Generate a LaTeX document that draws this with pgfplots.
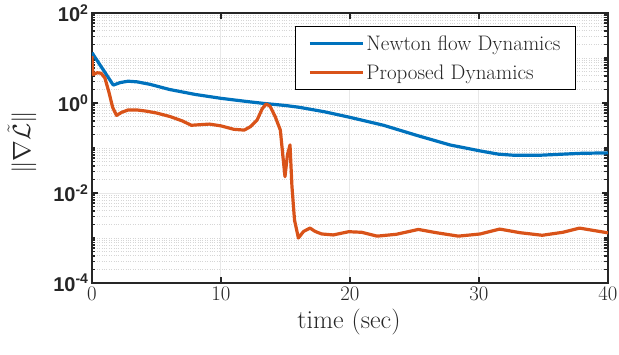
\documentclass[border=0pt]{standalone}
\usepackage{pgfplots}
\pgfplotsset{compat=1.18}
\usepackage{fontspec}
\newfontfamily\helv{Liberation Sans}

\definecolor{mblue}{RGB}{0,114,189}
\definecolor{morange}{RGB}{217,83,25}
\definecolor{axgray}{RGB}{38,38,38}

\begin{document}
\begin{tikzpicture}
\begin{axis}[
  name=ax, at={(0,0)}, anchor=south west,
  scale only axis, width=516pt, height=270pt,
  xmin=0, xmax=40, ymin=1e-4, ymax=1e2, ymode=log,
  xtick={0,10,20,30,40},
  ytick={1e-4,1e-2,1,1e2},
  yticklabels={10\textsuperscript{-4},10\textsuperscript{-2},10\textsuperscript{0},10\textsuperscript{2}},
  minor ytick={2e-4,3e-4,4e-4,5e-4,6e-4,7e-4,8e-4,9e-4,
               1e-3,2e-3,3e-3,4e-3,5e-3,6e-3,7e-3,8e-3,9e-3,
               2e-2,3e-2,4e-2,5e-2,6e-2,7e-2,8e-2,9e-2,
               1e-1,2e-1,3e-1,4e-1,5e-1,6e-1,7e-1,8e-1,9e-1,
               2,3,4,5,6,7,8,9,
               10,20,30,40,50,60,70,80,90},
  grid=both,
  major grid style={solid, color=black!9, line width=1pt},
  minor grid style={dotted, color=black!16, line width=0.9pt},
  axis line style={axgray, line width=1.3pt},
  tick style={axgray, line width=1.2pt},
  major tick length=6pt, minor tick length=3.5pt,
  tick align=inside,
  ticklabel style={font=\helv\bfseries\fontsize{20}{24}\selectfont, text=axgray},
  xticklabel style={yshift=-1pt},
  every axis x label/.style={at={(axis description cs:0.498,-0.144)}, anchor=center},
  every axis y label/.style={at={(axis description cs:-0.1357,0.52)}, rotate=90, anchor=center},
  xlabel style={font=\fontsize{26}{30}\selectfont, text=axgray},
  ylabel style={font=\fontsize{25}{29}\selectfont, text=axgray},
  xlabel={time (sec)},
  ylabel={$\|\nabla\tilde{\mathcal{L}}\|$},
  legend style={at={(0.938,0.952)}, anchor=north east, draw=black, line width=0.9pt,
    fill=white, font=\fontsize{21}{25}\selectfont, text=axgray,
    inner xsep=13pt, inner ysep=7pt, row sep=9pt,
    cells={anchor=west}},
  legend image code/.code={\draw[#1, line width=3.2pt] (0pt,0pt) -- (53pt,0pt);},
]
% Newton flow dynamics
\addplot[mblue, line width=3.2pt, line join=round] coordinates {
(0,13.1) (1.65,2.5) (2.2,2.85) (2.8,3.05) (3.5,2.95) (4.5,2.6) (6,2.0)
(8,1.55) (10,1.27) (12,1.08) (13.3,0.98) (15,0.88) (16.1,0.80) (18,0.64)
(20,0.48) (22.6,0.32) (25.2,0.19) (27.75,0.117) (30.1,0.086) (31.5,0.073)
(32.7,0.069) (34.7,0.069) (37.8,0.076) (40,0.078)
};
\addlegendentry{Newton flow Dynamics}
% proposed dynamics
\addplot[morange, line width=3.2pt, line join=round] coordinates {
(0,11) (0.03,6) (0.1,4.3) (0.4,4.7) (0.7,4.6) (1.0,3.6) (1.3,1.8) (1.6,0.8)
(1.9,0.53) (2.3,0.62) (2.8,0.70) (3.5,0.70) (4.2,0.66) (5,0.60) (6.05,0.50)
(7,0.40) (7.7,0.32) (8.4,0.33) (9.1,0.34) (10,0.31) (11,0.26) (11.8,0.25)
(12.3,0.30) (12.8,0.42) (13.2,0.75) (13.5,0.95) (13.8,0.85) (14.2,0.5)
(14.6,0.25) (14.8,0.065) (14.96,0.023) (15.15,0.07) (15.35,0.117) (15.5,0.014)
(15.7,0.0025) (16.0,0.001) (16.4,0.0014) (16.9,0.00166) (17.3,0.0014)
(17.8,0.00123) (18.7,0.00117) (19.9,0.00138) (20.9,0.00134) (22.1,0.0011)
(23.6,0.00121) (25.3,0.00155) (26.7,0.00131) (28.4,0.0011) (30.1,0.00123)
(31.6,0.00158) (33.2,0.00131) (34.9,0.00115) (36.5,0.00134) (37.8,0.00166)
(40,0.0013)
};
\addlegendentry{Proposed Dynamics}
\end{axis}
\pgfresetboundingbox
\path[use as bounding box] (-92pt,-71pt) rectangle (527pt,283pt);
\end{tikzpicture}
\end{document}
